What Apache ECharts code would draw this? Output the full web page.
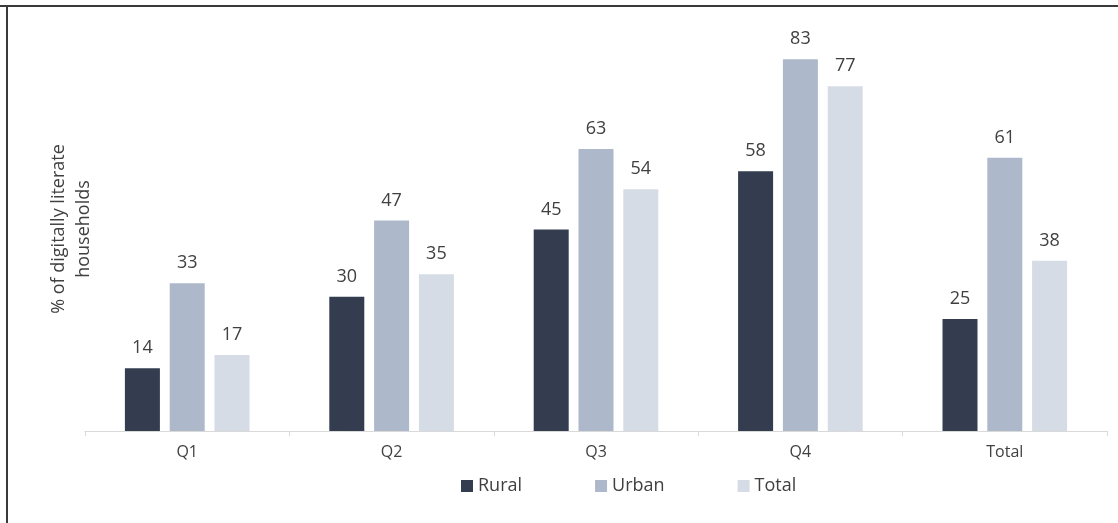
<!DOCTYPE html>
<html>
<head>
<meta charset="utf-8">
<script src="https://cdn.jsdelivr.net/npm/echarts@6/dist/echarts.min.js"></script>
<style>
  html, body { margin: 0; padding: 0; background: #fff; }
  #chart { width: 1118px; height: 523px; }
</style>
</head>
<body>
<div id="chart"></div>
<script>
// Share of digitally literate households by quintile
const categories = ['Q1', 'Q2', 'Q3', 'Q4', 'Total'];
const rural = [14, 30, 45, 58, 25];
const urban = [33, 47, 63, 83, 61];
const total = [17, 35, 54, 77, 38];
const seriesNames = ['Rural', 'Urban', 'Total'];
const yTitle = '% of digitally literate\nhouseholds';

const FONT = '"Open Sans", "Noto Sans", sans-serif';
const TEXT = '#404040';
const colors = ['#333d4f', '#adb9cb', '#d6dce5'];

function barSeries(name, data, color) {
  return {
    name: name,
    type: 'bar',
    data: data,
    barWidth: 35,
    barGap: '28%',
    itemStyle: { color: color },
    label: {
      show: true,
      position: 'top',
      distance: 11,
      color: TEXT,
      fontFamily: FONT,
      fontSize: 18
    }
  };
}

const chart = echarts.init(document.getElementById('chart'), null, { renderer: 'canvas' });
chart.setOption({
  animation: false,
  backgroundColor: '#ffffff',
  textStyle: { fontFamily: FONT },
  grid: { left: 85, right: 11, top: 28, bottom: 92, containLabel: false },
  legend: {
    data: seriesNames,
    left: 456,
    top: 472,
    itemWidth: 12,
    itemHeight: 12,
    itemGap: 73,
    icon: 'rect',
    textStyle: { color: TEXT, fontFamily: FONT, fontSize: 18 }
  },
  xAxis: {
    type: 'category',
    data: categories,
    axisLine: { lineStyle: { color: '#d9d9d9', width: 1 } },
    axisTick: { show: true, length: 5, lineStyle: { color: '#d9d9d9' } },
    axisLabel: { color: TEXT, fontFamily: FONT, fontSize: 16, margin: 13 }
  },
  yAxis: {
    type: 'value',
    min: 0,
    max: 90,
    interval: 10,
    axisLine: { show: false },
    axisTick: { show: false },
    axisLabel: { show: false },
    splitLine: { show: false }
  },
  series: [
    barSeries(seriesNames[0], rural, colors[0]),
    barSeries(seriesNames[1], urban, colors[1]),
    barSeries(seriesNames[2], total, colors[2])
  ],
  graphic: [
    {
      type: 'text',
      x: 71,
      y: 229,
      rotation: Math.PI / 2,
      style: {
        text: yTitle,
        fill: TEXT,
        font: '18px ' + FONT,
        lineHeight: 25,
        align: 'center',
        verticalAlign: 'middle'
      }
    },
    { type: 'line', shape: { x1: 0, y1: 6, x2: 1118, y2: 6 }, style: { stroke: '#3a3a3a', lineWidth: 2 } },
    { type: 'line', shape: { x1: 7, y1: 5, x2: 7, y2: 523 }, style: { stroke: '#3a3a3a', lineWidth: 2 } }
  ]
});
</script>
</body>
</html>
